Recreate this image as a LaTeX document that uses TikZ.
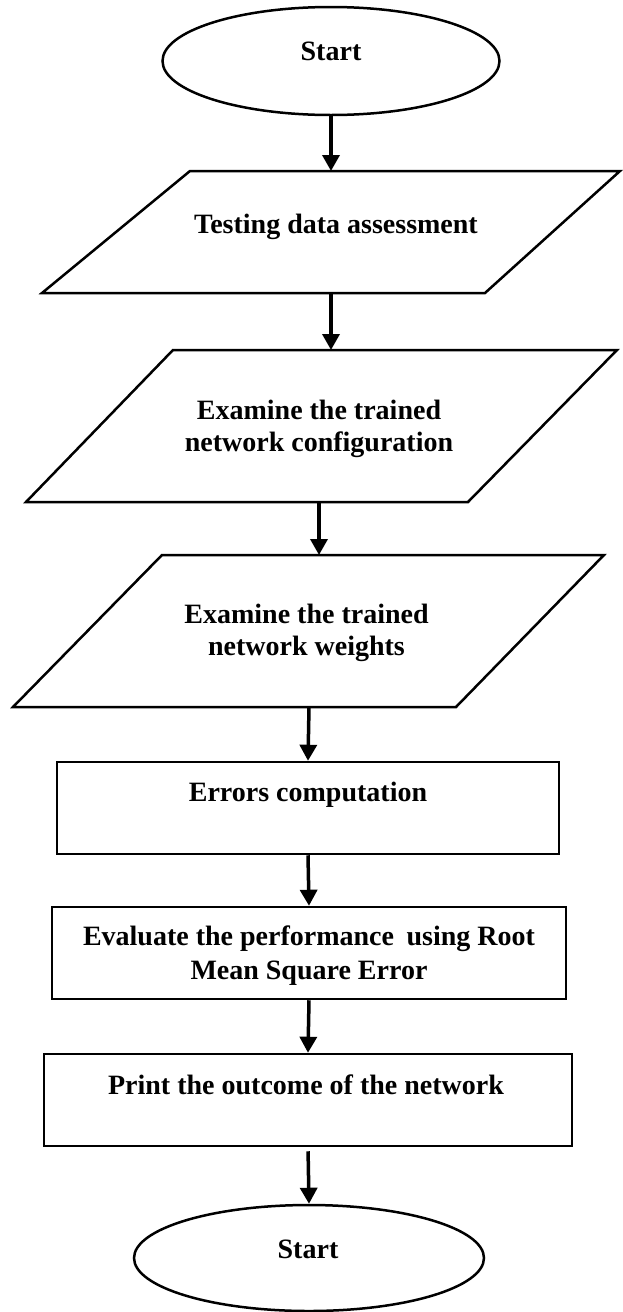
\documentclass[tikz,border=0pt]{standalone}
\usepackage{fontspec}
\setmainfont{Liberation Serif}
\usetikzlibrary{arrows.meta,shapes.geometric}
\begin{document}
\begin{tikzpicture}[x=1pt,y=-1pt,
  shapeline/.style={draw=black, line width=2.5pt, line join=miter},
  flowarrow/.style={draw=black, line width=3.5pt, -{Triangle[width=17pt,length=16pt]}},
  txt/.style={font=\bfseries\fontsize{28}{32}\selectfont, inner sep=0pt, align=center, text=black},
  terminal/.style={shapeline, ellipse, inner sep=0pt},
  procbox/.style={shapeline, rectangle, inner sep=0pt}
]
\useasboundingbox[fill=white] (0,0) rectangle (622,1312);

% Start ellipse
\node[terminal, minimum width=337pt, minimum height=108pt] (st) at (331,61) {};
\node[txt, anchor=base] (sttxt) at (331,60) {Start};

% Parallelogram 1
\draw[shapeline] (190,171) -- (620,171) -- (485,293) -- (42,293) -- cycle;
\coordinate (p1n) at (331,171);
\coordinate (p1s) at (331,293);
\node[txt, anchor=base] (p1) at (336,233) {Testing data assessment};

% Parallelogram 2
\draw[shapeline] (173,350) -- (617,350) -- (468,502) -- (26,502) -- cycle;
\coordinate (p2n) at (331,350);
\coordinate (p2s) at (319,502);
\node[txt] (p2) at (319,428.5) {Examine the trained\\network configuration};

% Parallelogram 3
\draw[shapeline] (162,555) -- (604,555) -- (456,707) -- (13,707) -- cycle;
\coordinate (p3n) at (319,555);
\coordinate (p3s) at (309,707);
\node[txt] (p3) at (306.5,632.5) {Examine the trained\\network weights};

% Rectangles
\node[procbox, minimum width=502pt, minimum height=92pt] (err) at (308,808) {};
\node[txt, anchor=base] (errtxt) at (308,801) {Errors computation};

\node[procbox, minimum width=514pt, minimum height=92pt] (ev) at (309,953) {};
\node[txt] (evtxt) at (309,955.5) {Evaluate the performance\hspace{0.2em} using Root\\[2pt]Mean Square Error};

\node[procbox, minimum width=528pt, minimum height=92pt] (pr) at (308,1100) {};
\node[txt, anchor=base] (prtxt) at (306,1094) {Print the outcome of the network};

% End ellipse
\node[terminal, minimum width=350pt, minimum height=106pt] (en) at (309,1258) {};
\node[txt, anchor=base] (entxt) at (308,1258) {Start};

% Connectors
\draw[flowarrow] (st.south) -- (p1n);
\draw[flowarrow] (p1s) -- (p2n);
\draw[flowarrow] (p2s) -- (p3n);
\draw[flowarrow] (p3s) -- (err.north);
\draw[flowarrow] (err.south) -- (ev.north);
\draw[flowarrow] (ev.south) -- (pr.north);
\draw[flowarrow, shorten <=4pt] (pr.south) -- (en.north);
\end{tikzpicture}
\end{document}
